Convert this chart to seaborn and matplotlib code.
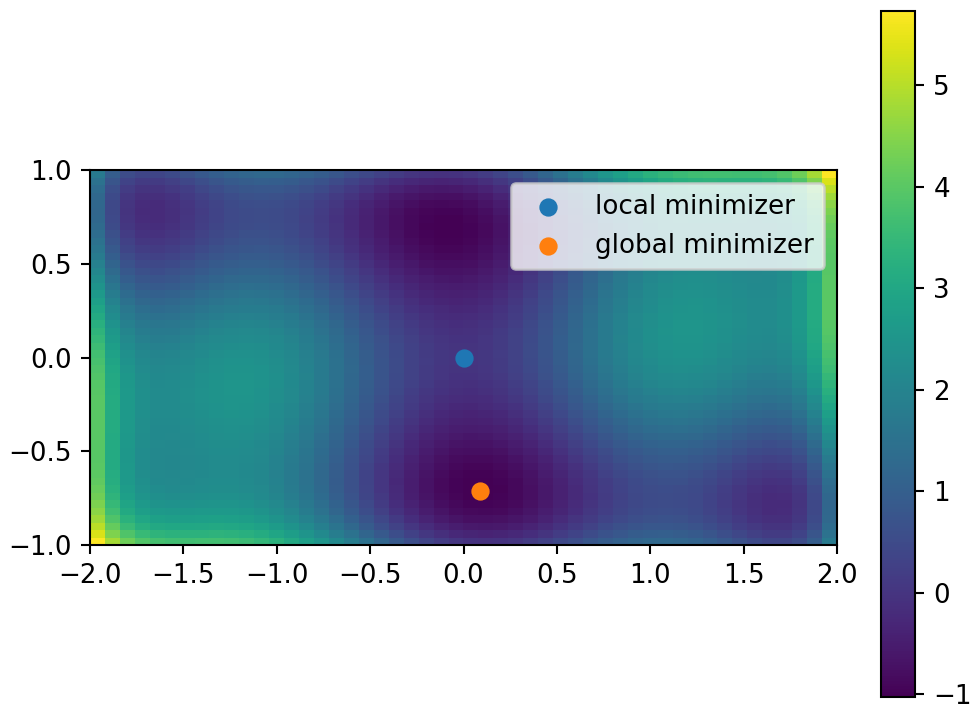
import numpy as np
import matplotlib
matplotlib.use("Agg")
import matplotlib.pyplot as plt
import seaborn as sns

# Grid on which the six-hump camelback surface is sampled (50 x 50 cells)
x_values = np.linspace(-2, 2, 50)
y_values = np.linspace(-1, 1, 50)

# Six-hump camelback polynomial coefficients
c_x2, c_x4, c_x6, c_xy, c_y2, c_y4 = 4.0, -2.1, 1.0 / 3.0, 1.0, -4.0, 4.0

# Minimizers marked on the chart
local_min = [0.0, 0.0]
global_min = [0.0898, -0.7126]
point_labels = ["local minimizer", "global minimizer"]
point_colors = ["#1f77b4", "#ff7f0e"]

xg, yg = np.meshgrid(x_values, y_values)
z = (c_x2 * xg**2 + c_x4 * xg**4 + c_x6 * xg**6 + c_xy * xg * yg
     + c_y2 * yg**2 + c_y4 * yg**4)

W, H, DPI = 973, 713, 188
fig = plt.figure(figsize=(W / DPI, H / DPI), dpi=DPI)
ax = fig.add_axes([90 / W, (H - 545) / H, 747 / W, 375 / H])
cax = fig.add_axes([881 / W, (H - 697) / H, 34 / W, 686 / H])

im = ax.imshow(z, extent=[-2, 2, -1, 1], origin="lower", cmap="viridis",
               aspect="auto")
fig.colorbar(im, cax=cax)

for pt, lab, col in zip([local_min, global_min], point_labels, point_colors):
    sns.scatterplot(x=[pt[0]], y=[pt[1]], ax=ax, color=col, label=lab,
                    s=36, linewidth=1.0, edgecolor=col)

ax.legend(loc="upper right")
ax.set_xlim(-2, 2)
ax.set_ylim(-1, 1)
ax.set_xticks([-2, -1.5, -1, -0.5, 0, 0.5, 1, 1.5, 2])
ax.set_yticks([-1, -0.5, 0, 0.5, 1])
ax.set_xlabel("")
ax.set_ylabel("")
fig.savefig("out.png", dpi=DPI)
